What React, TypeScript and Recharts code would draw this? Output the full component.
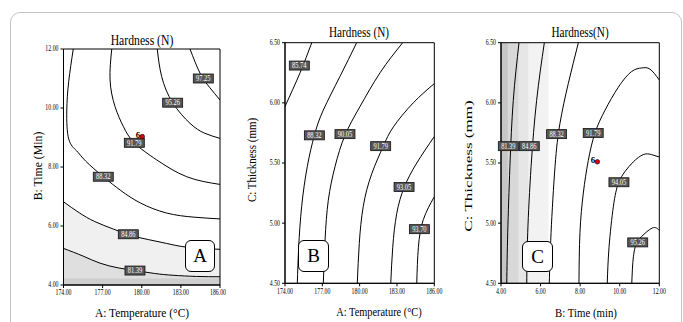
import React from 'react';
import {
  ComposedChart,
  Line,
  Area,
  XAxis,
  YAxis,
  ReferenceArea,
  ReferenceDot,
} from 'recharts';

// ---- panel A: temperature vs time ----
const tempTicks = [174, 177, 180, 183, 186];
const timeTicksA = [4, 6, 8, 10, 12];
const a8139 = [[174, 5.24], [175.5, 4.98], [176.8, 4.74], [178.2, 4.58], [179.5, 4.49], [181, 4.39], [182.4, 4.33], [184.2, 4.29], [186, 4.28]];
const a8486 = [[174, 6.82], [175.2, 6.45], [176.4, 6.15], [177.8, 5.9], [179.1, 5.69], [180.5, 5.54], [181.9, 5.41], [183.5, 5.28], [186, 5.21]];
const a8832 = [[174.75, 12], [174.4, 10.9], [174.25, 9.9], [174.4, 8.95], [175.0, 8.55], [175.7, 8.2], [177.05, 7.67], [178.4, 7.2], [179.9, 6.78], [181.9, 6.44], [184, 6.3], [186, 6.24]];
const a9179 = [[177.7, 12], [177.57, 10.95], [177.95, 10.05], [178.59, 9.37], [179.43, 8.82], [181.15, 8.24], [183.45, 7.67], [186, 7.41]];
const a9526 = [[181.19, 12], [181.53, 11.06], [182.37, 10.18], [183.7, 9.48], [184.8, 9.15], [186, 8.97]];
const a9725 = [[183.7, 12], [184.47, 11.18], [185.2, 10.7], [186, 10.27]];
const aTags: [number, number, string][] = [
  [184.72, 11.0, '97.25'], [182.37, 10.18, '95.26'], [179.43, 8.82, '91.79'],
  [177.05, 7.67, '88.32'], [178.97, 5.72, '84.86'], [179.48, 4.49, '81.39'],
];
const aPoint = [180.04, 9.03];

// ---- panel B: temperature vs thickness ----
const thickTicks = [4.5, 5, 5.5, 6, 6.5];
const b8574 = [[176.15, 6.5], [175.21, 6.25], [174, 5.97]];
const b8832 = [[179.76, 6.5], [178.42, 6.22], [177.08, 5.94], [176.36, 5.73], [175.79, 5.47], [175.34, 5.14], [175.1, 4.8], [174.99, 4.5]];
const b9005 = [[183.46, 6.5], [181.64, 6.25], [180.03, 5.97], [178.82, 5.73], [178.02, 5.47], [177.48, 5.19], [177.22, 4.86], [177.08, 4.5]];
const b9179 = [[186, 6.16], [184.31, 6.0], [182.71, 5.8], [181.9, 5.64], [180.97, 5.41], [180.29, 5.14], [179.97, 4.83], [179.81, 4.5]];
const b9305 = [[186, 5.72], [184.59, 5.5], [183.59, 5.3], [182.98, 5.08], [182.66, 4.8], [182.5, 4.5]];
const b9370 = [[186, 5.22], [185.12, 5.03], [184.72, 4.8], [184.59, 4.5]];
const bTags: [number, number, string][] = [
  [175.15, 6.31, '85.74'], [176.36, 5.73, '88.32'], [178.82, 5.74, '90.05'],
  [181.69, 5.64, '91.79'], [183.57, 5.3, '93.05'], [184.8, 4.95, '93.70'],
];

// ---- panel C: time vs thickness ----
const timeTicksC = [4, 6, 8, 10, 12];
const c8139 = [[4.91, 6.5], [4.62, 6.02], [4.45, 5.47], [4.34, 4.92], [4.29, 4.5]];
const c8486 = [[6.19, 6.5], [5.8, 6.02], [5.52, 5.47], [5.35, 4.92], [5.3, 4.5]];
const c8832 = [[7.91, 6.5], [7.4, 6.16], [6.98, 5.83], [6.73, 5.47], [6.53, 4.92], [6.44, 4.5]];
const c9179 = [[12, 6.19], [11.53, 6.28], [11.11, 6.29], [10.6, 6.26], [9.93, 6.13], [9.26, 5.94], [8.75, 5.75], [8.41, 5.52], [8.16, 5.25], [7.99, 4.92], [7.94, 4.5]];
const c9405 = [[12, 5.55], [11.61, 5.57], [11.19, 5.57], [10.69, 5.51], [10.27, 5.43], [9.93, 5.33], [9.68, 5.14], [9.46, 4.8], [9.37, 4.5]];
const c9526 = [[12, 4.94], [11.65, 4.96], [11.11, 4.89], [10.86, 4.84], [10.69, 4.72], [10.61, 4.5]];
const cTags: [number, number, string][] = [
  [4.37, 5.64, '81.39'], [5.43, 5.64, '84.86'], [6.81, 5.74, '88.32'],
  [8.66, 5.75, '91.79'], [9.96, 5.34, '94.05'], [10.91, 4.84, '95.26'],
];
const cPoint = [8.87, 5.51];
const cShadeEdges = [4, 4.35, 4.9, 5.4, 6.4];

const shadeGreys = ['#c6c6c6', '#d8d8d8', '#e6e6e6', '#f2f2f2'];
const FONT = '"Liberation Serif", "Times New Roman", serif';

const toPts = (arr: number[][]) => arr.map(([x, y]) => ({ x, y }));

const makeTick = (kind: 'x' | 'y') => (p: any) => (
  <text
    x={0}
    y={0}
    transform={`translate(${p.x},${p.y}) scale(0.78,1)`}
    textAnchor={kind === 'x' ? 'middle' : 'end'}
    dy={kind === 'x' ? '0.71em' : '0.32em'}
    fontSize={7.5}
    fontFamily={FONT}
    fill="#000"
  >
    {Number(p.payload.value).toFixed(2)}
  </text>
);

const Tag = (text: string) => (p: any) => (
  <g>
    <rect x={p.cx - 10} y={p.cy - 4.5} width={20} height={9} fill="#575757" stroke="#111" strokeWidth={0.8} />
    <text x={0} y={0} transform={`translate(${p.cx},${p.cy + 2.7}) scale(0.8,1)`} textAnchor="middle" fontSize={8} fontFamily={FONT} fill="#fff">
      {text}
    </text>
  </g>
);

const DesignPt = (p: any) => (
  <g>
    <text x={p.cx - 2} y={p.cy + 1} textAnchor="end" fontSize={9} fontWeight="bold" fontFamily={FONT} fill="#000">6</text>
    <circle cx={p.cx} cy={p.cy} r={2.3} fill="#e00000" stroke="#000" strokeWidth={0.6} />
  </g>
);

const Txt = ({ x, y, size, sx = 1, rotate = false, children }: any) => (
  <div
    style={{
      position: 'absolute',
      left: x,
      top: y,
      fontFamily: FONT,
      fontSize: size,
      whiteSpace: 'nowrap',
      color: '#000',
      lineHeight: 1,
      transform: `translate(-50%,-50%) ${rotate ? 'rotate(-90deg)' : ''} scaleX(${sx})`,
    }}
  >
    {children}
  </div>
);

const Letter = ({ x, y, w, h, children }: any) => (
  <div
    style={{
      position: 'absolute',
      left: x,
      top: y,
      width: w,
      height: h,
      boxSizing: 'border-box',
      border: '1px solid #000',
      borderRadius: 6,
      background: '#fff',
      fontFamily: FONT,
      fontSize: 19,
      display: 'flex',
      alignItems: 'center',
      justifyContent: 'center',
    }}
  >
    {children}
  </div>
);

interface PanelProps {
  left: number;
  width: number;
  margin: { top: number; right: number; bottom: number; left: number };
  xDomain: [number, number];
  yDomain: [number, number];
  xTicks: number[];
  yTicks: number[];
  lines: number[][][];
  tags: [number, number, string][];
  point?: number[];
  children?: React.ReactNode;
}

const Panel = ({ left, width, margin, xDomain, yDomain, xTicks, yTicks, lines, tags, point, children }: PanelProps) => (
  <div style={{ position: 'absolute', left, top: 0 }}>
    <ComposedChart width={width} height={322} margin={margin}>
      <XAxis
        type="number"
        dataKey="x"
        domain={xDomain}
        ticks={xTicks}
        allowDataOverflow
        height={30}
        tickSize={3}
        tick={makeTick('x')}
        tickLine={{ stroke: '#000' }}
        axisLine={{ stroke: '#000' }}
      />
      <YAxis
        type="number"
        dataKey="y"
        domain={yDomain}
        ticks={yTicks}
        allowDataOverflow
        width={40}
        tickSize={3}
        tick={makeTick('y')}
        tickLine={{ stroke: '#000' }}
        axisLine={{ stroke: '#000' }}
      />
      {children}
      {lines.map((l, i) => (
        <Line
          key={i}
          data={toPts(l)}
          dataKey="y"
          type="natural"
          stroke="#000"
          strokeWidth={1}
          dot={false}
          activeDot={false}
          isAnimationActive={false}
        />
      ))}
      {tags.map(([x, y, t]) => (
        <ReferenceDot key={t + x} x={x} y={y} r={0} shape={Tag(t)} ifOverflow="visible" />
      ))}
      {point && <ReferenceDot x={point[0]} y={point[1]} shape={DesignPt} />}
      <ReferenceArea x1={xDomain[0]} x2={xDomain[1]} y1={yDomain[0]} y2={yDomain[1]} fill="none" stroke="#000" strokeWidth={1} />
    </ComposedChart>
  </div>
);

export default function App() {
  return (
    <div style={{ position: 'absolute', left: 0, top: 0, width: 683, height: 322, background: '#fff', overflow: 'hidden' }}>
      <div
        style={{
          position: 'absolute',
          left: 10,
          top: 12,
          width: 670,
          height: 340,
          border: '1px solid #c4c4c4',
          borderRadius: 10,
        }}
      />

      <Panel
        left={0}
        width={230}
        margin={{ top: 49, right: 10, bottom: 7, left: 23.5 }}
        xDomain={[174, 186]}
        yDomain={[4, 12]}
        xTicks={tempTicks}
        yTicks={timeTicksA}
        lines={[a9725, a9526, a9179, a8832, a8486, a8139]}
        tags={aTags}
        point={aPoint}
      >
        <Area data={toPts(a8486)} dataKey="y" type="monotone" stroke="none" fill="#f0f0f0" fillOpacity={1} isAnimationActive={false} />
        <Area data={toPts(a8139)} dataKey="y" type="monotone" stroke="none" fill="#dfdfdf" fillOpacity={1} isAnimationActive={false} />
        <ReferenceArea x1={174} x2={186} y1={4} y2={4.22} fill="#cecece" fillOpacity={1} stroke="none" />
      </Panel>

      <Panel
        left={220}
        width={230}
        margin={{ top: 42.7, right: 15.7, bottom: 8.7, left: 25 }}
        xDomain={[174, 186]}
        yDomain={[4.5, 6.5]}
        xTicks={tempTicks}
        yTicks={thickTicks}
        lines={[b8574, b8832, b9005, b9179, b9305, b9370]}
        tags={bTags}
      />

      <Panel
        left={445}
        width={238}
        margin={{ top: 42.7, right: 23.7, bottom: 8.7, left: 16 }}
        xDomain={[4, 12]}
        yDomain={[4.5, 6.5]}
        xTicks={timeTicksC}
        yTicks={thickTicks}
        lines={[c8139, c8486, c8832, c9179, c9405, c9526]}
        tags={cTags}
        point={cPoint}
      >
        {cShadeEdges.slice(0, -1).map((e, i) => (
          <ReferenceArea key={i} x1={e} x2={cShadeEdges[i + 1]} y1={4.5} y2={6.5} fill={shadeGreys[i]} fillOpacity={1} stroke="none" />
        ))}
      </Panel>

      <Txt x={142} y={40} size={15} sx={0.78}>Hardness (N)</Txt>
      <Txt x={359} y={33} size={14} sx={0.8}>Hardness (N)</Txt>
      <Txt x={580} y={33} size={14} sx={0.8}>Hardness(N)</Txt>

      <Txt x={142} y={313} size={12} sx={0.95}>A: Temperature (°C)</Txt>
      <Txt x={379} y={313} size={11.5} sx={0.9}>A: Temperature (°C)</Txt>
      <Txt x={586} y={313} size={12} sx={0.9}>B: Time (min)</Txt>

      <Txt x={38} y={166} size={12} sx={0.98} rotate>B: Time (Min)</Txt>
      <Txt x={253} y={160} size={11.5} sx={0.95} rotate>C: Thickness (mm)</Txt>
      <Txt x={468} y={166} size={11} sx={1.55} rotate>C: Thickness (mm)</Txt>

      <Letter x={185} y={240} w={30} h={32}>A</Letter>
      <Letter x={298} y={240} w={31} h={32}>B</Letter>
      <Letter x={522} y={241} w={31} h={31}>C</Letter>
    </div>
  );
}
